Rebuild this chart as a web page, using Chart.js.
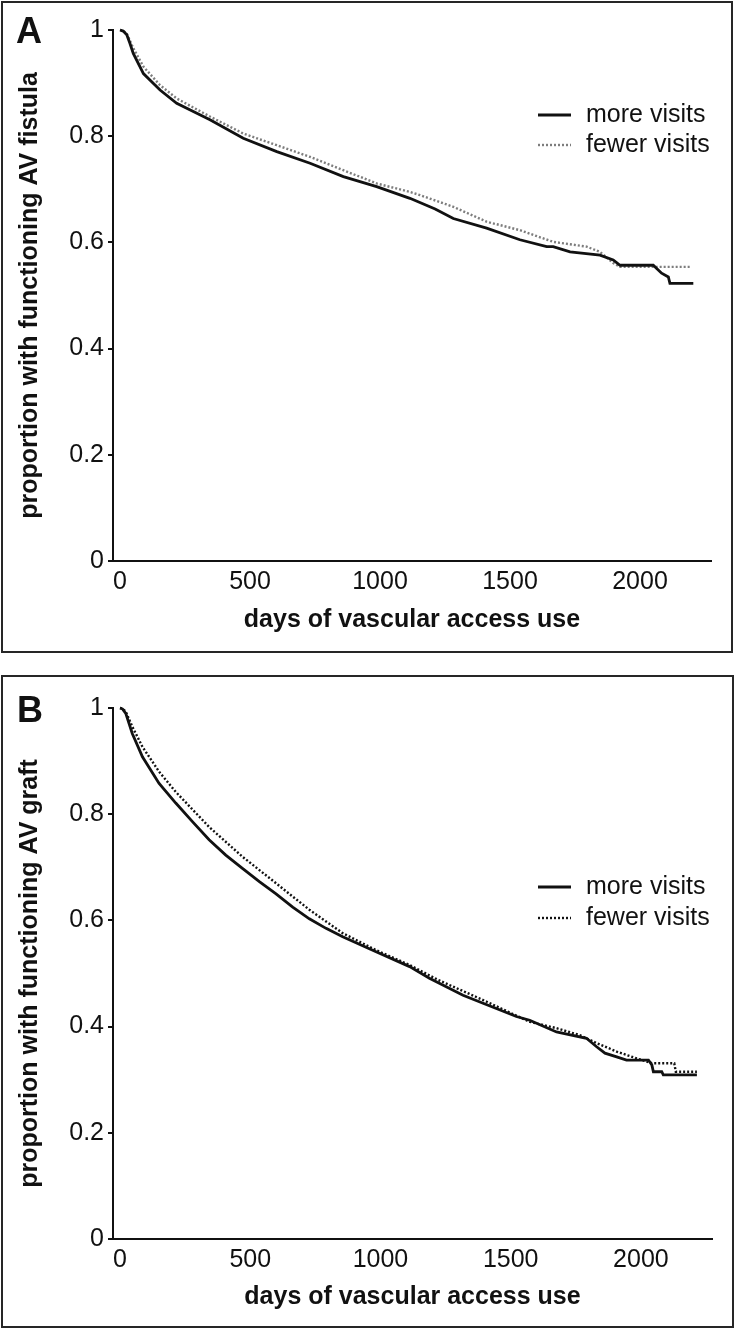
<!DOCTYPE html>
<html>
<head>
<meta charset="utf-8">
<script src="https://cdn.jsdelivr.net/npm/chart.js@4.4.1/dist/chart.umd.min.js"></script>
<style>
  html, body { margin: 0; padding: 0; background: #fff; }
  body { width: 735px; height: 1328px; position: relative; overflow: hidden; }
  .panel { position: absolute; box-sizing: border-box; border: 2px solid #262626; }
  #panelA { left: 1px; top: 1px; width: 732px; height: 652px; }
  #panelB { left: 1px; top: 675px; width: 733px; height: 653px; }
  canvas { position: absolute; left: 0; }
</style>
</head>
<body>
<div class="panel" id="panelA"></div>
<div class="panel" id="panelB"></div>
<canvas id="chartA" width="735" height="660" style="top:0;width:735px;height:660px"></canvas>
<canvas id="chartB" width="735" height="654" style="top:674px;width:735px;height:654px"></canvas>
<script>
const xTicks = [0, 500, 1000, 1500, 2000];
const yTicks = [0, 0.2, 0.4, 0.6, 0.8, 1];
const seriesLabels = ['more visits', 'fewer visits'];

// panel A: AV fistula
const fistulaMoreDays = [0, 12, 26, 38, 51, 90, 154, 218, 346, 474, 603, 731, 859, 987, 1115, 1212, 1282, 1410, 1538, 1641, 1666, 1731, 1846, 1897, 1923, 2051, 2064, 2083, 2109, 2115, 2205];
const fistulaMoreSurv = [1, 0.998, 0.991, 0.975, 0.956, 0.918, 0.887, 0.862, 0.831, 0.796, 0.771, 0.749, 0.724, 0.705, 0.683, 0.663, 0.645, 0.627, 0.605, 0.592, 0.592, 0.582, 0.576, 0.567, 0.557, 0.557, 0.551, 0.542, 0.535, 0.523, 0.523];
const fistulaFewerDays = [0, 12, 26, 51, 90, 154, 218, 346, 474, 603, 731, 859, 987, 1115, 1154, 1282, 1410, 1538, 1666, 1795, 1846, 1897, 1923, 2198];
const fistulaFewerSurv = [1, 0.999, 0.993, 0.966, 0.931, 0.896, 0.871, 0.837, 0.805, 0.783, 0.761, 0.736, 0.711, 0.695, 0.689, 0.667, 0.639, 0.623, 0.601, 0.592, 0.582, 0.561, 0.554, 0.554];

// panel B: AV graft
const graftMoreDays = [0, 10, 22, 47, 86, 150, 214, 278, 342, 406, 470, 535, 599, 663, 727, 791, 855, 983, 1112, 1188, 1317, 1394, 1522, 1573, 1676, 1791, 1830, 1862, 1907, 1945, 2029, 2042, 2048, 2080, 2086, 2215];
const graftMoreSurv = [1, 0.998, 0.99, 0.952, 0.908, 0.858, 0.821, 0.786, 0.752, 0.723, 0.698, 0.673, 0.65, 0.625, 0.603, 0.585, 0.569, 0.541, 0.513, 0.491, 0.459, 0.444, 0.419, 0.412, 0.39, 0.378, 0.362, 0.35, 0.343, 0.337, 0.337, 0.328, 0.315, 0.315, 0.309, 0.309];
const graftFewerDays = [0, 10, 22, 47, 86, 150, 214, 342, 470, 599, 727, 855, 983, 1112, 1221, 1394, 1573, 1676, 1765, 1830, 1907, 1984, 2042, 2128, 2134, 2215];
const graftFewerSurv = [1, 0.999, 0.993, 0.965, 0.927, 0.88, 0.842, 0.776, 0.72, 0.67, 0.62, 0.576, 0.544, 0.516, 0.488, 0.45, 0.409, 0.397, 0.384, 0.369, 0.353, 0.34, 0.331, 0.331, 0.315, 0.315];

const FONT = 'Arial, "Liberation Sans", sans-serif';
const INK = '#111';

function points(days, surv) {
  return days.map((d, i) => ({ x: d, y: surv[i] }));
}

// draws the panel letter and the legend (line sample + label) inside the plot
const panelDecor = {
  id: 'panelDecor',
  afterDraw(chart, args, opts) {
    const ctx = chart.ctx;
    ctx.save();
    ctx.fillStyle = INK;
    ctx.textBaseline = 'alphabetic';
    ctx.font = `bold 36px ${FONT}`;
    ctx.fillText(opts.letter, opts.letterX, opts.letterY);
    ctx.font = `25px ${FONT}`;
    chart.data.datasets.forEach((ds, i) => {
      const y = opts.legendY[i];
      ctx.beginPath();
      ctx.setLineDash(ds.borderDash || []);
      ctx.strokeStyle = ds.borderColor;
      ctx.lineWidth = ds.borderWidth;
      ctx.moveTo(opts.sampleX0, y);
      ctx.lineTo(opts.sampleX1, y);
      ctx.stroke();
      ctx.setLineDash([]);
      ctx.fillText(ds.label, opts.textX, y + 6.5);
    });
    ctx.restore();
  },
};

function makePanel(canvasId, p) {
  const ctx = document.getElementById(canvasId).getContext('2d');
  return new Chart(ctx, {
    type: 'line',
    data: {
      datasets: [
        {
          label: seriesLabels[0],
          data: points(p.moreDays, p.moreSurv),
          borderColor: INK,
          borderWidth: 2.8,
          clip: 6,
        },
        {
          label: seriesLabels[1],
          data: points(p.fewerDays, p.fewerSurv),
          borderColor: p.fewerColor,
          borderWidth: 2.4,
          borderDash: [2, 2],
          clip: 6,
        },
      ],
    },
    options: {
      responsive: false,
      devicePixelRatio: 1,
      animation: false,
      layout: { padding: { top: p.top, right: p.right, left: 0, bottom: 0 } },
      elements: { point: { radius: 0 }, line: { tension: 0, fill: false } },
      plugins: {
        legend: { display: false },
        tooltip: { enabled: false },
        panelDecor: p.decor,
      },
      scales: {
        x: {
          type: 'linear',
          min: -27,
          max: 2273,
          afterBuildTicks: (scale) => { scale.ticks = xTicks.map((v) => ({ value: v })); },
          afterFit: (scale) => { scale.height = p.xHeight; },
          grid: { display: false, drawTicks: false },
          border: { display: true, color: INK, width: 2 },
          ticks: {
            autoSkip: false,
            maxRotation: 0,
            padding: p.xPad,
            color: INK,
            font: { size: 25, family: FONT },
            callback: (v) => String(v),
          },
          title: {
            display: true,
            text: 'days of vascular access use',
            color: INK,
            font: { size: 25, weight: 'bold', family: FONT },
            padding: { top: 0, bottom: p.xTitlePad },
          },
        },
        y: {
          min: 0,
          max: 1,
          afterBuildTicks: (scale) => { scale.ticks = yTicks.map((v) => ({ value: v })); },
          afterFit: (scale) => { scale.width = 113; },
          grid: { display: true, drawOnChartArea: false, drawTicks: true, tickLength: 5, color: INK, lineWidth: 2 },
          border: { display: true, color: INK, width: 2 },
          ticks: {
            padding: 4,
            color: INK,
            font: { size: 25, family: FONT },
            callback: (v) => String(+v.toFixed(1)),
          },
          title: {
            display: true,
            text: p.yTitle,
            color: INK,
            font: { size: 25, weight: 'bold', family: FONT },
            padding: { top: 15, bottom: 0 },
          },
        },
      },
    },
    plugins: [panelDecor],
  });
}

makePanel('chartA', {
  moreDays: fistulaMoreDays,
  moreSurv: fistulaMoreSurv,
  fewerDays: fistulaFewerDays,
  fewerSurv: fistulaFewerSurv,
  fewerColor: '#7d7d7d',
  yTitle: 'proportion with functioning AV fistula',
  top: 30,
  right: 24,
  xHeight: 99,
  xPad: 6,
  xTitlePad: 24.5,
  decor: { letter: 'A', letterX: 16, letterY: 43, legendY: [115, 145], sampleX0: 538, sampleX1: 571, textX: 586 },
});

makePanel('chartB', {
  moreDays: graftMoreDays,
  moreSurv: graftMoreSurv,
  fewerDays: graftFewerDays,
  fewerSurv: graftFewerSurv,
  fewerColor: INK,
  yTitle: 'proportion with functioning AV graft',
  top: 34,
  right: 23,
  xHeight: 89,
  xPad: 6,
  xTitlePad: 15.7,
  decor: { letter: 'B', letterX: 17, letterY: 48, legendY: [213, 244], sampleX0: 538, sampleX1: 571, textX: 586 },
});
</script>
</body>
</html>
